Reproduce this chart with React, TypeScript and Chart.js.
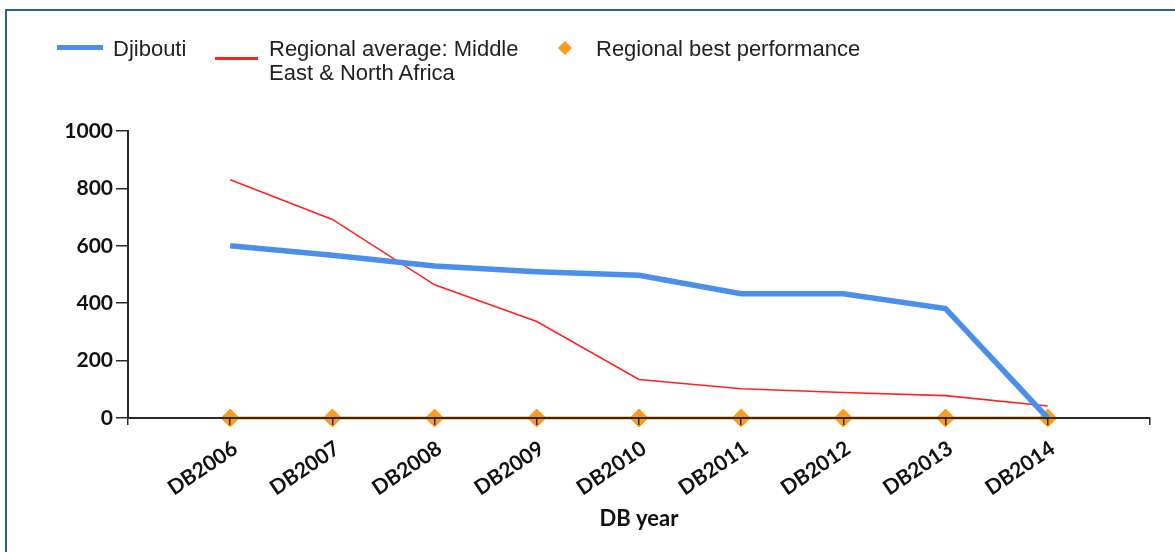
import React, { useEffect, useRef } from "react";
import { Chart, registerables } from "chart.js";

Chart.register(...registerables);

// ---- data ----
const years = ["DB2006", "DB2007", "DB2008", "DB2009", "DB2010", "DB2011", "DB2012", "DB2013", "DB2014"];
const djibouti = [600, 567, 530, 510, 497, 433, 433, 381, 0];
const regionalAverage = [830, 692, 464, 336, 134, 102, 89, 78, 42];
const regionalBest = [0, 0, 0, 0, 0, 0, 0, 0, 0];
const yTickValues = [0, 200, 400, 600, 800, 1000];
const seriesNames = ["Djibouti", "Regional average: Middle East & North Africa", "Regional best performance"];
const xAxisTitle = "DB year";

const BLUE = "#4a8fea";
const RED = "#ff2222";
const ORANGE = "#ff9a1a";
const AXIS = "#2a2a2a";

const pad = (arr: number[]) => [null, ...arr, null];

export default function App() {
  const canvasRef = useRef<HTMLCanvasElement | null>(null);

  useEffect(() => {
    if (!canvasRef.current) return;
    const labels = ["", ...years, ""];
    const chart = new Chart(canvasRef.current, {
      type: "line",
      data: {
        labels,
        datasets: [
          {
            label: seriesNames[2],
            data: pad(regionalBest),
            borderColor: ORANGE,
            backgroundColor: ORANGE,
            borderWidth: 3,
            pointStyle: "rectRot",
            pointRadius: 9,
            pointBorderWidth: 1,
            pointBorderColor: ORANGE,
            pointBackgroundColor: ORANGE,
            clip: false,
            order: 3,
          },
          {
            label: seriesNames[1],
            data: pad(regionalAverage),
            borderColor: RED,
            borderWidth: 1.6,
            pointRadius: 0,
            tension: 0,
            clip: false,
            order: 2,
          },
          {
            label: seriesNames[0],
            data: pad(djibouti),
            borderColor: BLUE,
            borderWidth: 5.5,
            pointRadius: 0,
            tension: 0,
            clip: false,
            order: 1,
          },
        ],
      },
      options: {
        responsive: false,
        animation: false,
        events: [],
        layout: { padding: { left: 0, top: 131, right: 25, bottom: 0 } },
        plugins: {
          legend: { display: false },
          tooltip: { enabled: false },
          title: { display: false },
        },
        scales: {
          x: {
            type: "category",
            offset: false,
            grid: {
              drawOnChartArea: false,
              drawTicks: true,
              tickLength: 7,
              color: AXIS,
              lineWidth: 1.5,
              z: 1,
            },
            border: { color: AXIS, width: 2, z: 1 },
            ticks: {
              autoSkip: false,
              maxRotation: 34,
              minRotation: 34,
              padding: 11,
              labelOffset: 5,
              color: "#111",
              font: { family: "Lato", weight: "bold", size: 21 },
            },
            title: {
              display: true,
              text: xAxisTitle,
              color: "#111",
              font: { family: "Lato", weight: "bold", size: 22 },
              padding: { top: 0, bottom: 20 },
            },
            afterFit: (s: any) => {
              s.height = 134;
            },
          },
          y: {
            min: 0,
            max: 1000,
            grid: {
              drawOnChartArea: false,
              drawTicks: true,
              tickLength: 12,
              color: AXIS,
              lineWidth: 1.5,
              z: 1,
            },
            border: { color: AXIS, width: 2, z: 1 },
            ticks: {
              padding: 3,
              color: "#111",
              font: { family: "Lato", weight: "bold", size: 21 },
              callback: (v: any) => String(v),
            },
            afterBuildTicks: (s: any) => {
              s.ticks = yTickValues.map((v) => ({ value: v }));
            },
            afterFit: (s: any) => {
              s.width = 128;
            },
          },
        },
      },
    } as any);
    return () => chart.destroy();
  }, []);

  const legendText: React.CSSProperties = {
    position: "absolute",
    top: 37,
    fontFamily: "'Liberation Sans', Arial, sans-serif",
    fontSize: 22,
    lineHeight: "24px",
    color: "#222",
    whiteSpace: "normal",
  };

  return (
    <div style={{ position: "absolute", left: 0, top: 0, width: 1175, height: 552, overflow: "hidden", background: "#fff" }}>
      <div
        style={{
          position: "absolute",
          left: 5,
          top: 9,
          width: 1300,
          height: 700,
          borderTop: "2px solid #2e5c98",
          borderLeft: "2px solid #2e5c98",
        }}
      />
      <canvas ref={canvasRef} width={1175} height={552} style={{ position: "absolute", left: 0, top: 0, width: 1175, height: 552 }} />
      {/* legend */}
      <div style={{ position: "absolute", left: 57, top: 45, width: 46, height: 5, background: BLUE }} />
      <div style={{ ...legendText, left: 113 }}>{seriesNames[0]}</div>
      <div style={{ position: "absolute", left: 215, top: 57, width: 43, height: 3, background: RED }} />
      <div style={{ ...legendText, left: 269, width: 262 }}>{seriesNames[1]}</div>
      <div
        style={{
          position: "absolute",
          left: 560,
          top: 43,
          width: 10,
          height: 10,
          background: ORANGE,
          transform: "rotate(45deg)",
        }}
      />
      <div style={{ ...legendText, left: 596 }}>{seriesNames[2]}</div>
    </div>
  );
}
